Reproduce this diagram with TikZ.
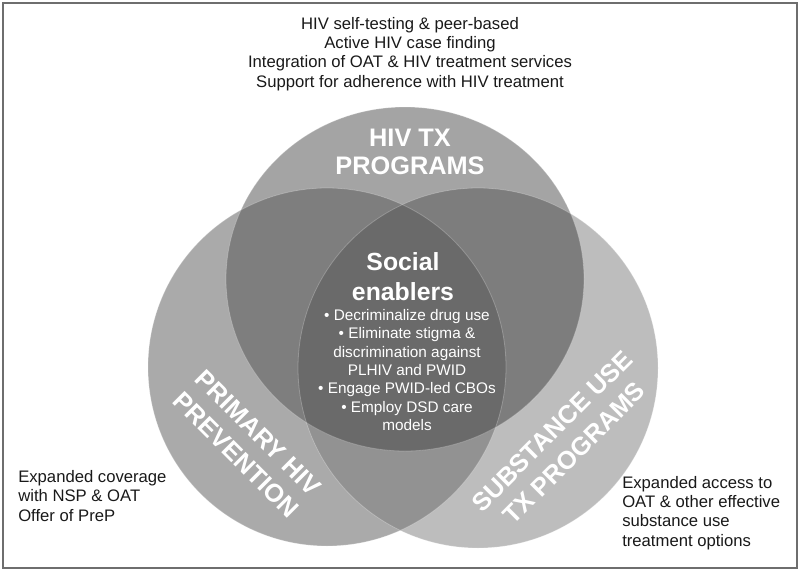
\documentclass[tikz,border=0pt]{standalone}
\usepackage{fontspec}
\setmainfont{Liberation Sans}
\definecolor{frameline}{HTML}{6E6E6E}
\definecolor{tophiv}{HTML}{A4A4A4}
\definecolor{leftprev}{HTML}{AAAAAA}
\definecolor{rightsub}{HTML}{BDBDBD}
\definecolor{topleft}{HTML}{7E7E7E}
\definecolor{topright}{HTML}{7D7D7D}
\definecolor{leftright}{HTML}{929292}
\definecolor{allthree}{HTML}{6A6A6A}
\begin{document}
\begin{tikzpicture}[x=0.75pt, y=-0.75pt,
    notetext/.style={font={\fontsize{12.5}{14.5}\selectfont}, text=black!90, inner sep=0pt},
    ringlabel/.style={font={\fontsize{19}{23.5}\selectfont\bfseries}, text=white, align=center, inner sep=0pt},
    bulletlist/.style={font={\fontsize{11.5}{13.7}\selectfont}, text=white, align=center, inner sep=0pt},
    rim/.style={draw=white, draw opacity=0.25, line width=0.6pt}
]
    \useasboundingbox (0,0) rectangle (800,571);

    % Circles
    \fill[leftprev] (327,367) circle [radius=179];
    \fill[rightsub] (478,368) circle [radius=180];
    \fill[tophiv] (405,279) ellipse [x radius=179, y radius=172];

    % Overlaps
    \begin{scope}
        \clip (327,367) circle [radius=179];
        \fill[leftright] (478,368) circle [radius=180];
        \fill[topleft] (405,279) ellipse [x radius=179, y radius=172];
    \end{scope}
    \begin{scope}
        \clip (478,368) circle [radius=180];
        \fill[topright] (405,279) ellipse [x radius=179, y radius=172];
        \clip (327,367) circle [radius=179];
        \fill[allthree] (405,279) ellipse [x radius=179, y radius=172];
    \end{scope}
    \path[rim] (327,367) circle [radius=179];
    \path[rim] (478,368) circle [radius=180];
    \path[rim] (405,279) ellipse [x radius=179, y radius=172];

    % Frame
    \draw[frameline, line width=1.1pt] (3,3) rectangle (797,568);

    % Labels
    \node[ringlabel, font={\fontsize{19}{20.5}\selectfont\bfseries}] (hivtx) at (410,152) {HIV TX\\PROGRAMS};
    \node[ringlabel, rotate=-45] (primary) at (247,444) {PRIMARY HIV\\PREVENTION};
    \node[ringlabel, rotate=45] (substance) at (563,442) {SUBSTANCE USE\\TX PROGRAMS};
    \node[ringlabel, font={\fontsize{18.6}{22.5}\selectfont\bfseries}] (social) at (403,277) {Social\\enablers};
    \node[bulletlist] (enablers) at (407,370) {• Decriminalize drug use\\• Eliminate stigma \&\\discrimination against\\PLHIV and PWID\\• Engage PWID-led CBOs\\• Employ DSD care\\models};

    % Notes
    \node[notetext, align=center] (hivnote) at (410,54) {HIV self-testing \& peer-based\\Active HIV case finding\\Integration of OAT \& HIV treatment services\\Support for adherence with HIV treatment};
    \node[notetext, align=left, anchor=west] (prevnote) at (18,496) {Expanded coverage\\with NSP \& OAT\\Offer of PreP};
    \node[notetext, align=left, anchor=west] (subnote) at (622,513) {Expanded access to\\OAT \& other effective\\substance use\\treatment options};

\end{tikzpicture}
\end{document}
